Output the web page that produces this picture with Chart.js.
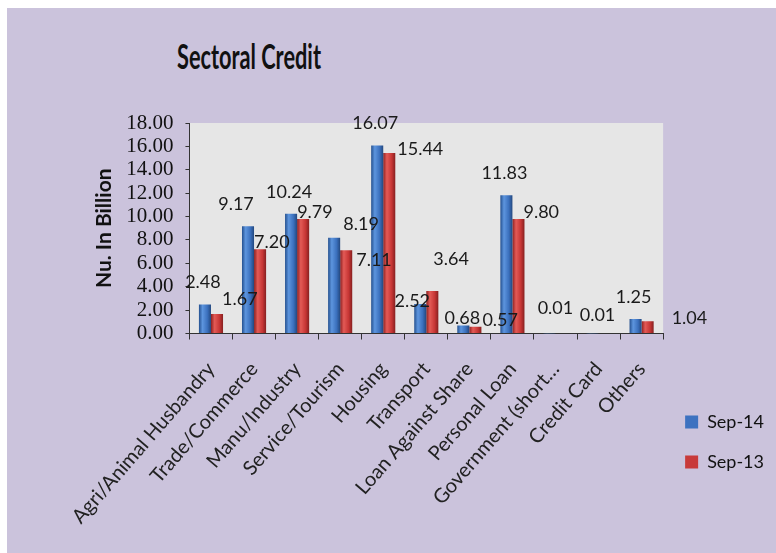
<!DOCTYPE html>
<html>
<head>
<meta charset="utf-8">
<script src="https://cdn.jsdelivr.net/npm/chart.js@4.4.1/dist/chart.umd.min.js"></script>
<style>
  html, body { margin: 0; padding: 0; background: #fff; }
  #frame { position: absolute; left: 7px; top: 8px; width: 769px; height: 545px; background: #cbc3dc; overflow: hidden; }
  #title { position: absolute; left: 170px; top: 31px; font: bold 34px Lato, sans-serif; line-height: 34px; color: #111; white-space: nowrap; transform: scaleX(0.64); transform-origin: left top; }
  canvas { position: absolute; left: 0; top: 0; }
</style>
</head>
<body>
<div id="frame">
  <div id="title">Sectoral Credit</div>
  <canvas id="sectoral-credit" width="769" height="545"></canvas>
</div>
<script>
const CATEGORIES = ['Agri/Animal Husbandry', 'Trade/Commerce', 'Manu/Industry', 'Service/Tourism', 'Housing', 'Transport', 'Loan Against Share', 'Personal Loan', 'Government (short…', 'Credit Card', 'Others'];
const SEP_14 = [2.48, 9.17, 10.24, 8.19, 16.07, 2.52, 0.68, 11.83, 0.01, 0.01, 1.25];
const SEP_13 = [1.67, 7.20, 9.79, 7.11, 15.44, 3.64, 0.57, 9.80, null, null, 1.04];
const SERIES = ['Sep-14', 'Sep-13'];
const Y_TICKS = { min: 0, max: 18, step: 2 };

// hand nudges for the value labels, as placed in the original (px)
const NUDGE_14 = [[0, 0], [-10, 0], [0, 0], [29, 8], [0, 0], [-6, 19], [1, 15], [0, 0], [8, -3], [7, 4], [0, 0]];
const NUDGE_13 = [[0, -8], [-11, 0], [-11, 0], [5, 17], [3, 3], [-4, -25], [2, 0], [0, 0], [0, 0], [0, 0], [19, 4]];

const BLUE = ['#24508f', '#5d95de', '#3b70bd', '#23487f'];
const RED = ['#8e2020', '#e35a56', '#c73635', '#862020'];

// light grey plot background
const plotBg = {
    id: 'plotBg',
    beforeDraw(chart) {
        const { ctx, chartArea: a } = chart;
        ctx.save();
        ctx.fillStyle = '#e6e6e6';
        ctx.fillRect(a.left, a.top, a.right - a.left, a.bottom - a.top);
        ctx.restore();
    }
};

// horizontal shading on each bar, like the excel bevel
const barShade = {
    id: 'barShade',
    beforeDatasetsDraw(chart) {
        const ctx = chart.ctx;
        chart.data.datasets.forEach((ds, i) => {
            const stops = i === 0 ? BLUE : RED;
            chart.getDatasetMeta(i).data.forEach((el) => {
                if (el.width == null || isNaN(el.x)) return;
                const g = ctx.createLinearGradient(el.x - el.width / 2, 0, el.x + el.width / 2, 0);
                g.addColorStop(0, stops[0]);
                g.addColorStop(0.3, stops[1]);
                g.addColorStop(0.7, stops[2]);
                g.addColorStop(1, stops[3]);
                el.options = Object.assign({}, el.options, { backgroundColor: g });
            });
        });
    }
};

// value labels: Sep-14 centred above the bar, Sep-13 to the right of its top
const valueLabels = {
    id: 'valueLabels',
    afterDatasetsDraw(chart) {
        const ctx = chart.ctx;
        ctx.save();
        ctx.font = '18px Lato, sans-serif';
        ctx.fillStyle = '#1a1a1a';
        ctx.textBaseline = 'middle';
        chart.data.datasets.forEach((ds, i) => {
            const nudge = i === 0 ? NUDGE_14 : NUDGE_13;
            chart.getDatasetMeta(i).data.forEach((el, j) => {
                const v = ds.data[j];
                if (v == null) return;
                const txt = v.toFixed(2);
                const [dx, dy] = nudge[j];
                if (i === 0) {
                    ctx.textAlign = 'center';
                    ctx.fillText(txt, el.x - 2 + dx, el.y - 22 + dy);
                } else {
                    ctx.textAlign = 'left';
                    ctx.fillText(txt, el.x + el.width / 2 - 1 + dx, el.y - 7 + dy);
                }
            });
        });
        ctx.restore();
    }
};

new Chart(document.getElementById('sectoral-credit').getContext('2d'), {
    type: 'bar',
    data: {
        labels: CATEGORIES,
        datasets: [{
            label: SERIES[0],
            data: SEP_14,
            backgroundColor: '#3d72c0',
            categoryPercentage: 0.56,
            barPercentage: 1.0,
        }, {
            label: SERIES[1],
            data: SEP_13,
            backgroundColor: '#c83a3a',
            categoryPercentage: 0.56,
            barPercentage: 1.0,
        }],
    },
    options: {
        responsive: false,
        animation: false,
        devicePixelRatio: 1,
        layout: { padding: { left: 85, top: 115, right: 2, bottom: 9 } },
        plugins: {
            tooltip: { enabled: false },
            legend: {
                position: 'right',
                align: 'start',
                title: { display: true, text: '', font: { size: 10 }, padding: { top: 256, bottom: 0 } },
                labels: {
                    boxWidth: 13,
                    boxHeight: 13,
                    padding: 22,
                    color: '#111',
                    font: { family: 'Lato, sans-serif', size: 18 },
                },
            },
        },
        scales: {
            x: {
                grid: { offset: true, drawOnChartArea: false, drawTicks: true, tickLength: 6, color: '#333' },
                border: { color: '#333' },
                ticks: {
                    autoSkip: false,
                    maxRotation: 49,
                    minRotation: 49,
                    padding: 18,
                    color: '#222',
                    font: { family: 'Lato, sans-serif', size: 20 },
                },
            },
            y: {
                min: Y_TICKS.min,
                max: Y_TICKS.max,
                grid: { drawOnChartArea: false, drawTicks: true, tickLength: 4, color: '#333' },
                border: { color: '#333' },
                ticks: {
                    stepSize: Y_TICKS.step,
                    autoSkip: false,
                    padding: 12,
                    color: '#111',
                    font: { family: '"Liberation Serif", serif', size: 21 },
                    callback: (v) => v.toFixed(2),
                },
                title: {
                    display: true,
                    text: 'Nu. In Billion',
                    color: '#111',
                    font: { family: 'Lato, sans-serif', size: 21, weight: 'bold' },
                    padding: { top: 0, bottom: -3 },
                },
            },
        },
    },
    plugins: [plotBg, barShade, valueLabels],
});
</script>
</body>
</html>
